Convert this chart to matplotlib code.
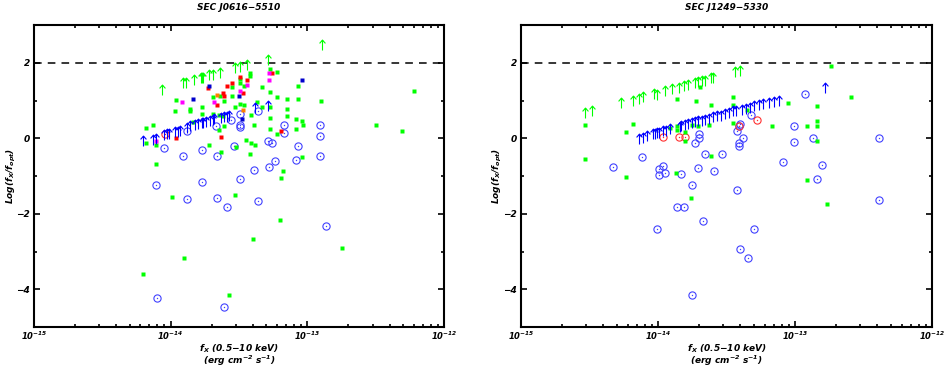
import numpy as np
import matplotlib
matplotlib.use("Agg")
import matplotlib.pyplot as plt
from matplotlib.path import Path
from matplotlib.ticker import FixedLocator, NullFormatter, FuncFormatter

plt.rcParams['font.family'] = ['DejaVu Sans']
plt.rcParams['font.weight'] = 'bold'
plt.rcParams['font.style'] = 'italic'
plt.rcParams['axes.titleweight'] = 'bold'
plt.rcParams['axes.labelweight'] = 'bold'
plt.rcParams['mathtext.fontset'] = 'dejavusans'
try:
    plt.rcParams['mathtext.default'] = 'bfit'
except ValueError:
    plt.rcParams['mathtext.default'] = 'it'

# ---- data: log10(fx) and log(fx/fopt) ----
titles = ["SEC J0616\u22125510", "SEC J1249\u22125330"]
xdecades = [-15, -14, -13, -12]

# left field
L_garrow_lx = [-14.06, -13.91, -13.89, -13.83, -13.78, -13.77, -13.76, -13.72, -13.69, -13.64,
               -13.53, -13.49, -13.44, -13.29, -12.89]
L_garrow_y = [1.15, 1.33, 1.33, 1.41, 1.46, 1.46, 1.47, 1.53, 1.55, 1.59, 1.72, 1.75, 1.81, 1.94, 2.35]

L_barrow_lx = [-14.20, -14.13, -14.11, -14.05, -14.03, -14.01, -13.97, -13.95, -13.93, -13.88,
               -13.86, -13.82, -13.80, -13.77, -13.76, -13.74, -13.71, -13.69, -13.68, -13.63,
               -13.61, -13.59, -13.57, -13.38, -13.29]
L_barrow_y = [-0.21, -0.17, -0.15, -0.05, -0.03, -0.01, 0.02, 0.04, 0.06, 0.15, 0.18, 0.22, 0.24,
              0.27, 0.28, 0.30, 0.33, 0.35, 0.37, 0.40, 0.42, 0.44, 0.47, 0.67, 0.71]

L_gsq_lx = [-13.27, -13.22, -13.42, -13.42, -13.49, -13.49, -13.55, -13.46, -13.33, -13.69,
            -13.64, -13.61, -13.55, -13.27, -13.22, -13.96, -13.97, -13.86, -13.86, -13.77,
            -13.77, -13.69, -13.65, -13.62, -13.53, -13.49, -13.46, -13.37, -13.41, -13.33,
            -13.27, -13.15, -13.07, -13.07, -12.90, -13.15, -13.15, -13.08, -13.04, -13.03,
            -13.08, -13.27, -13.39, -13.27, -13.22, -13.61, -13.65, -13.84, -14.18, -14.13,
            -14.18, -14.11, -13.45, -13.41, -13.38, -13.52, -13.42, -13.63, -13.72, -14.11,
            -13.04, -13.18, -13.19, -13.99, -13.53, -13.20, -13.40, -13.90, -14.20, -13.57,
            -12.22, -12.50, -12.31, -12.75]
L_gsq_y = [1.83, 1.76, 1.74, 1.65, 1.56, 1.46, 1.35, 1.39, 1.37, 1.09,
           1.12, 1.00, 1.11, 1.23, 1.08, 1.01, 0.71, 0.78, 0.73, 0.84,
           0.64, 0.65, 0.62, 0.58, 0.84, 0.91, 0.89, 0.97, 0.61, 0.84,
           0.84, 1.04, 1.04, 1.39, 0.99, 0.77, 0.60, 0.51, 0.47, 0.36,
           0.25, 0.54, 0.36, 0.25, 0.10, 0.33, 0.21, 0.42, 0.27, 0.36,
           -0.12, -0.17, -0.05, -0.12, -0.19, -0.23, -0.41, -0.37, -0.19, -0.67,
           -0.50, -0.87, -1.04, -1.55, -1.50, -2.17, -2.67, -3.18, -3.59, -4.16,
           1.24, 0.34, 0.18, -2.90]

L_rsq_lx = [-13.49, -13.44, -13.55, -13.59, -13.73, -13.62, -13.61, -13.66, -13.47, -13.26,
            -13.63, -13.96, -13.19]
L_rsq_y = [1.63, 1.54, 1.47, 1.39, 1.32, 1.19, 1.11, 0.89, 1.21, 1.74, 0.04, 0.01, 0.18]

L_msq_lx = [-13.92, -13.68, -13.44, -13.49, -13.28, -13.28, -14.11]
L_msq_y = [0.97, 0.95, 1.41, 1.24, 1.74, 1.53, -0.08]

L_bsq_lx = [-13.72, -13.84, -13.50, -13.04, -13.48]
L_bsq_y = [1.39, 1.04, 1.13, 1.53, 0.51]

L_osq_lx = [-13.66, -13.47]
L_osq_y = [1.15, 0.76]

L_bcirc_lx = [-14.05, -13.91, -13.77, -13.66, -13.54, -13.29, -13.26, -13.07, -12.91, -12.91,
              -13.08, -13.24, -13.28, -13.39, -13.49, -13.77, -14.11, -13.88, -13.66, -13.59,
              -13.36, -12.86, -14.10, -13.61, -13.17, -13.67, -13.56, -13.49, -13.49, -13.49,
              -13.36, -13.17, -12.91, -13.88]
L_bcirc_y = [-0.26, -0.46, -0.30, -0.46, -0.20, -0.06, -0.12, -0.21, 0.05, -0.46,
             -0.58, -0.59, -0.76, -0.85, -1.09, -1.17, -1.24, -1.62, -1.57, -1.82,
             -1.65, -2.33, -4.23, -4.46, 0.14, 0.32, 0.49, 0.65, 0.36, 0.30,
             0.71, 0.34, 0.36, 0.18]

L_rcirc_lx = [-14.04]
L_rcirc_y = [0.10]

# right field
R_garrow_lx = [-14.53, -14.48, -14.27, -14.18, -14.14, -14.11, -14.03, -14.01, -13.95, -13.90,
               -13.85, -13.81, -13.78, -13.73, -13.71, -13.68, -13.66, -13.61, -13.60, -13.44,
               -13.40]
R_garrow_y = [0.54, 0.58, 0.80, 0.86, 0.91, 0.95, 1.04, 1.02, 1.11, 1.18,
              1.21, 1.26, 1.28, 1.33, 1.35, 1.39, 1.39, 1.46, 1.46, 1.63, 1.65]

R_barrow_lx = [-14.14, -14.11, -14.08, -14.04, -14.02, -14.01, -13.99, -13.96, -13.94, -13.91,
               -13.84, -13.83, -13.80, -13.78, -13.75, -13.73, -13.71, -13.68, -13.66, -13.63,
               -13.60, -13.57, -13.54, -13.51, -13.48, -13.45, -13.43, -13.39, -13.36, -13.33,
               -13.30, -13.26, -13.23, -13.19, -13.15, -13.12, -12.78]
R_barrow_y = [-0.14, -0.12, -0.08, -0.03, -0.02, 0.01, 0.01, 0.05, 0.05, 0.10,
              0.16, 0.18, 0.21, 0.25, 0.27, 0.30, 0.32, 0.33, 0.36, 0.39,
              0.42, 0.45, 0.47, 0.51, 0.54, 0.58, 0.60, 0.62, 0.65, 0.68,
              0.71, 0.76, 0.77, 0.80, 0.84, 0.86, 1.21]

R_gsq_lx = [-12.74, -12.59, -13.05, -12.84, -12.84, -12.84, -12.91, -12.84, -13.17, -13.35,
            -13.45, -13.45, -13.61, -13.72, -13.69, -13.86, -14.18, -14.23, -14.53, -14.53,
            -14.23, -13.87, -13.61, -13.91, -13.86, -13.86, -13.80, -13.80, -13.75, -13.71,
            -13.63, -13.45, -12.91, -13.76, -12.77]
R_gsq_y = [1.91, 1.09, 0.93, 0.86, 0.45, 0.32, 0.32, -0.08, 0.33, 0.76,
           0.89, 1.08, 0.87, 0.99, 1.35, 1.05, 0.38, 0.16, 0.34, -0.56,
           -1.02, -0.91, -0.47, 0.27, 0.33, 0.21, 0.16, -0.06, 0.36, 0.33,
           0.36, 0.40, -1.10, -1.59, -1.74]

R_bcirc_lx = [-12.93, -13.01, -13.01, -12.87, -13.32, -13.40, -13.41, -13.42, -13.38, -13.41,
              -13.41, -13.70, -13.70, -13.73, -13.66, -13.53, -14.12, -14.33, -13.99, -13.96,
              -13.99, -13.95, -13.83, -13.71, -13.59, -13.75, -13.09, -12.80, -12.84, -13.42,
              -13.86, -13.81, -13.67, -14.01, -13.30, -13.40, -13.34, -13.75, -12.39, -12.39]
R_bcirc_y = [1.17, 0.32, -0.11, 0.01, 0.62, 0.39, 0.33, 0.18, 0.01, -0.12,
             -0.21, 0.10, 0.01, -0.12, -0.43, -0.41, -0.50, -0.76, -0.81, -0.74,
             -0.98, -0.93, -0.94, -0.78, -0.87, -1.24, -0.63, -0.72, -1.07, -1.36,
             -1.83, -1.83, -2.20, -2.41, -2.40, -2.93, -3.16, -4.16, 0.01, -1.64]

R_rcirc_lx = [-13.96, -13.85, -13.80, -13.41, -13.28]
R_rcirc_y = [0.04, 0.03, 0.03, 0.33, 0.49]

# ---- drawing ----
arrow = Path([(0, 0), (0, 1), (-0.28, 0.68), (0, 1), (0.28, 0.68)],
             [Path.MOVETO, Path.LINETO, Path.MOVETO, Path.LINETO, Path.LINETO])

GREEN = '#00ff00'
BLUE = '#0000ff'
CBLUE = '#4040ff'


def fx(lx):
    return 10.0 ** np.array(lx)


def arrows(ax, lx, y, color):
    ax.plot(fx(lx), y, ls='none', marker=arrow, ms=15, mec=color, mfc='none', mew=0.8)


def squares(ax, lx, y, color):
    ax.plot(fx(lx), y, ls='none', marker='s', ms=3.2, mec='none', mfc=color)


def circles(ax, lx, y, color):
    ax.plot(fx(lx), y, ls='none', marker='o', ms=5.2, mec=color, mfc='none', mew=0.8)
    ax.plot(fx(lx), y, ls='none', marker='o', ms=1.0, mec='none', mfc=color)


def style(ax, title, ylab_x):
    ax.set_xscale('log')
    ax.set_xlim(1e-15, 1e-12)
    ax.set_ylim(-5, 3)
    ax.axhline(2, color='black', ls=(0, (5, 4)), lw=1.1)
    ax.yaxis.set_major_locator(FixedLocator([-4, -2, 0, 2]))
    ax.yaxis.set_minor_locator(FixedLocator([-5, -3, -1, 1, 3]))
    ax.xaxis.set_major_locator(FixedLocator(fx(xdecades)))
    minors = [m * 10.0 ** d for d in xdecades[:-1] for m in range(2, 10)]
    ax.xaxis.set_minor_locator(FixedLocator(minors))
    ax.xaxis.set_major_formatter(FuncFormatter(lambda v, p: '$10^{%d}$' % round(np.log10(v))))
    ax.xaxis.set_minor_formatter(NullFormatter())
    ax.tick_params(which='both', direction='in', top=True, right=True, width=1.2)
    ax.tick_params(which='major', length=4, labelsize=6.5, pad=3)
    ax.tick_params(axis='x', which='major', labelsize=6, pad=2)
    ax.tick_params(which='minor', length=2)
    for sp in ax.spines.values():
        sp.set_linewidth(1.5)
    ax.set_title(title, fontsize=6.5, pad=11)
    ax.set_xlabel('$f_X$ (0.5\u221210 keV)\n(erg cm$^{-2}$ s$^{-1}$)', fontsize=6.5,
                  linespacing=0.9)
    ax.xaxis.set_label_coords(0.5, -0.05)
    ax.set_ylabel('Log($f_X$/$f_{opt}$)', fontsize=6.5)
    ax.yaxis.set_label_coords(ylab_x, 0.5)


fig = plt.figure(figsize=(9.48, 3.68), dpi=100)
axL = fig.add_axes([34 / 948, 1 - 327 / 368, 410 / 948, 302 / 368])
axR = fig.add_axes([521 / 948, 1 - 327 / 368, 411 / 948, 302 / 368])

style(axL, titles[0], -0.04)
circles(axL, L_bcirc_lx, L_bcirc_y, CBLUE)
circles(axL, L_rcirc_lx, L_rcirc_y, '#ff3030')
squares(axL, L_gsq_lx, L_gsq_y, GREEN)
squares(axL, L_rsq_lx, L_rsq_y, '#ff0000')
squares(axL, L_msq_lx, L_msq_y, '#ff00ff')
squares(axL, L_bsq_lx, L_bsq_y, '#0000cc')
squares(axL, L_osq_lx, L_osq_y, '#ff8000')
arrows(axL, L_garrow_lx, L_garrow_y, GREEN)
arrows(axL, L_barrow_lx, L_barrow_y, BLUE)

style(axR, titles[1], -0.042)
circles(axR, R_bcirc_lx, R_bcirc_y, CBLUE)
circles(axR, R_rcirc_lx, R_rcirc_y, '#ff3030')
squares(axR, R_gsq_lx, R_gsq_y, GREEN)
arrows(axR, R_garrow_lx, R_garrow_y, GREEN)
arrows(axR, R_barrow_lx, R_barrow_y, BLUE)

fig.savefig('out.png', dpi=100)
